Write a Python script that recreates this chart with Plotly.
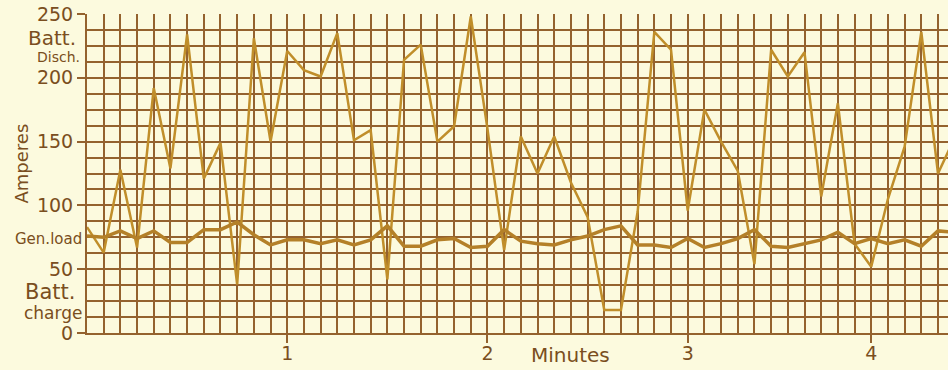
import plotly.graph_objects as go

# x = grid division index (one reading per vertical grid line)
divisions = list(range(53))

batt_discharge = [83, 63, 128, 67, 192, 129, 234, 121, 149, 38,
                  231, 150, 221, 206, 201, 235, 151, 159, 42, 214,
                  226, 150, 162, 248, 160, 65, 154, 125, 154, 118,
                  91, 18, 18, 95, 236, 222, 96, 175, 150, 127,
                  54, 222, 201, 220, 107, 180, 70, 52, 105, 146,
                  236, 125, 153]

gen_load = [76, 75, 80, 74, 80, 71, 71, 81, 81, 87,
            77, 69, 73, 73, 70, 73, 69, 73, 84, 68,
            68, 73, 74, 67, 68, 81, 72, 70, 69, 73,
            76, 81, 84, 69, 69, 67, 74, 67, 70, 74,
            81, 68, 67, 70, 73, 79, 70, 74, 70, 73,
            68, 80, 79]

minute_ticks = [12, 24, 36, 47]
minute_labels = ["1", "2", "3", "4"]
amp_ticks = [0, 50, 100, 150, 200, 250]
amp_labels = ["0", "50", "100", "150", "200", "250"]

BG = "rgb(252,250,222)"
GRID = "rgb(148,98,46)"
INK = "rgb(122,78,32)"
LINE1 = "rgb(192,142,42)"
LINE2 = "rgb(180,128,40)"
FONT = "DejaVu Sans"

fig = go.Figure()
fig.add_trace(go.Scatter(x=divisions, y=batt_discharge, mode="lines",
                         line=dict(color=LINE1, width=2.5), showlegend=False))
fig.add_trace(go.Scatter(x=divisions, y=gen_load, mode="lines",
                         line=dict(color=LINE2, width=3.5), showlegend=False))

fig.update_layout(
    width=948, height=370,
    margin=dict(l=87, r=0, t=14, b=37),
    paper_bgcolor=BG, plot_bgcolor=BG,
    font=dict(family=FONT, color=INK),
    xaxis=dict(range=[0, 51.6], tickmode="array", tickvals=minute_ticks,
               ticktext=minute_labels, ticks="outside", ticklen=8,
               tickcolor=GRID, tickwidth=1.5, automargin=False,
               ticklabelstandoff=-6,
               tickfont=dict(size=19, color=INK, family=FONT),
               showgrid=True, gridcolor=GRID, gridwidth=1.6,
               minor=dict(tickmode="linear", tick0=0, dtick=1, showgrid=True,
                          gridcolor=GRID, gridwidth=1.6, ticks=""),
               zeroline=False, showline=True, linecolor=GRID, linewidth=2),
    yaxis=dict(range=[0, 250], tickmode="array", tickvals=amp_ticks,
               ticktext=amp_labels, ticks="outside", ticklen=8,
               tickcolor=GRID, tickwidth=1.5, automargin=False,
               tickfont=dict(size=19, color=INK, family=FONT),
               showgrid=True, gridcolor=GRID, gridwidth=1.6,
               minor=dict(tickmode="linear", tick0=0, dtick=12.5, showgrid=True,
                          gridcolor=GRID, gridwidth=1.6, ticks=""),
               zeroline=False, showline=True, linecolor=GRID, linewidth=2,
               mirror=True),
)

def ann(text, x, y, size, xanchor="right", angle=0, xref="paper"):
    fig.add_annotation(text=text, x=x, y=y, xref=xref, yref="paper",
                       xanchor=xanchor, yanchor="middle", showarrow=False,
                       textangle=angle,
                       font=dict(size=size, color=INK, family=FONT))

ann("Batt.", -0.010, 0.924, 20)
ann("Disch.", -0.006, 0.864, 14)
ann("Gen.load", -0.004, 0.295, 15)
ann("Batt.", -0.012, 0.128, 21)
ann("charge", -0.004, 0.062, 17)
ann("Amperes", -0.076, 0.53, 18, xanchor="center", angle=-90)
ann("Minutes", 29, -0.068, 20, xanchor="center", xref="x")

fig.write_html(
    "out.html",
    config={"displayModeBar": False},
    post_script="document.body.style.margin='0';"
                "document.body.style.background='rgb(252,250,222)';",
)
